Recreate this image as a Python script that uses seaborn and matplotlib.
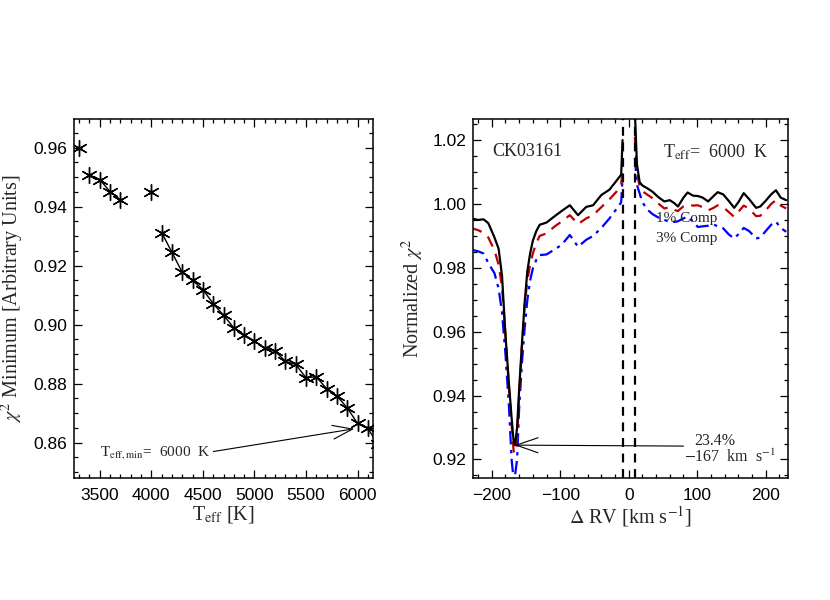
import numpy as np
import pandas as pd
import matplotlib
matplotlib.use("Agg")
import matplotlib.pyplot as plt
import seaborn as sns

# left panel: chi^2 minimum vs Teff
teff = [3300, 3400, 3500, 3600, 3700, 4000, 4100, 4200, 4300, 4400, 4500, 4600,
        4700, 4800, 4900, 5000, 5100, 5200, 5300, 5400, 5500, 5600, 5700, 5800,
        5900, 6000, 6100, 6200]
chi_min = [0.9600, 0.9508, 0.9491, 0.9451, 0.9423, 0.9451, 0.9312, 0.9245, 0.9177,
           0.9150, 0.9119, 0.9071, 0.9032, 0.8989, 0.8966, 0.8944, 0.8921, 0.8910,
           0.8876, 0.8865, 0.8820, 0.8823, 0.8783, 0.8758, 0.8718, 0.8665, 0.8648,
           0.8594]
# which run each point belongs to (points are only joined inside a run)
teff_run = [0, 1, 1, 1, 1, 2, 3, 3, 3, 3, 3, 3, 3, 3, 3, 3, 3, 3, 3, 3, 3, 3, 3, 3,
            3, 3, 3, 3]

# right panel: normalized chi^2 vs delta RV (curves break between the dashed lines)
rv = [-230, -220, -212, -205, -196, -190, -185, -180, -175, -171, -168, -166, -163,
      -160, -156, -152, -148, -144, -140, -135, -130, -120, -108, -98, -86, -74,
      -62, -52, -40, -28, -16, -11, -9, 9, 12, 16, 20, 28, 35, 43, 52,
      60, 67, 72, 80, 86, 94, 101, 108, 116, 124, 130, 138, 146, 154, 160, 168,
      176, 186, 192, 200, 208, 215, 222, 230]
chi_0 = [0.9955, 0.9950, 0.9952, 0.9940, 0.9895, 0.9860, 0.9775, 0.9590, 0.9440,
         0.9330, 0.9255, 0.9245, 0.9300, 0.9420, 0.9560, 0.9690, 0.9790, 0.9845,
         0.9885, 0.9915, 0.9935, 0.9942, 0.9962, 0.9978, 0.9996, 0.9965, 0.9991,
         0.9996, 1.0028, 1.0045, 1.0078, 1.0092, 1.0200,
         1.0290, 1.0125, 1.0068, 1.0058, 1.0048, 1.0038, 1.0022, 1.0008, 1.0012,
         1.0002, 0.9992, 1.0020, 1.0036, 1.0026, 1.0025, 1.0020, 1.0008, 1.0025,
         1.0037, 1.0030, 1.0010, 0.9988, 1.0005, 1.0034, 1.0015, 0.9988, 0.9992,
         1.0010, 1.0030, 1.0043, 1.0020, 1.0012]
chi_1 = [0.9925, 0.9918, 0.9910, 0.9895, 0.9855, 0.9810, 0.9740, 0.9590, 0.9430,
         0.9310, 0.9225, 0.9220, 0.9270, 0.9400, 0.9550, 0.9680, 0.9760, 0.9810,
         0.9845, 0.9878, 0.9900, 0.9908, 0.9930, 0.9945, 0.9965, 0.9937, 0.9955,
         0.9965, 0.9990, 1.0015, 1.0043, 1.0060, 1.0110,
         1.0210, 1.0100, 1.0055, 1.0040, 1.0028, 1.0018, 1.0002, 0.9986, 0.9990,
         0.9981, 0.9978, 0.9993, 0.9998, 0.9995, 0.9996, 0.9990, 0.9980, 0.9988,
         0.9996, 0.9990, 0.9975, 0.9960, 0.9975, 0.9995, 0.9985, 0.9962, 0.9963,
         0.9980, 1.0000, 1.0012, 0.9995, 0.9986]
chi_3 = [0.9857, 0.9852, 0.9845, 0.9815, 0.9783, 0.9735, 0.9660, 0.9530, 0.9370,
         0.9200, 0.9135, 0.9150, 0.9200, 0.9360, 0.9500, 0.9610, 0.9700, 0.9760,
         0.9798, 0.9825, 0.9840, 0.9842, 0.9858, 0.9872, 0.9903, 0.9866, 0.9888,
         0.9900, 0.9925, 0.9955, 0.9990, 1.0005, 1.0080,
         1.0145, 1.0060, 1.0033, 1.0005, 0.9981, 0.9968, 0.9958, 0.9950, 0.9945,
         0.9944, 0.9946, 0.9955, 0.9960, 0.9945, 0.9928, 0.9930, 0.9932, 0.9936,
         0.9930, 0.9924, 0.9905, 0.9892, 0.9905, 0.9925, 0.9915, 0.9892, 0.9895,
         0.9915, 0.9935, 0.9945, 0.9925, 0.9913]
rv_marks = [-9, 9]

sns.set_theme(style="ticks")
plt.rcParams["font.family"] = ["Liberation Serif", "DejaVu Serif"]
plt.rcParams["mathtext.fontset"] = "stix"
plt.rcParams["axes.linewidth"] = 1.1

TICK_FONT = "Liberation Sans"
LABEL_SIZE = 14.5


def style_axes(ax):
    ax.tick_params(which="both", direction="in", top=True, right=True,
                   labelsize=12.5, width=0.9, colors="black", pad=5)
    ax.tick_params(axis="x", which="both", pad=7)
    ax.tick_params(which="major", length=6)
    ax.tick_params(which="minor", length=3)
    for lab in ax.get_xticklabels() + ax.get_yticklabels():
        lab.set_fontfamily(TICK_FONT)
    for sp in ax.spines.values():
        sp.set_color("black")
        sp.set_visible(True)


fig = plt.figure(figsize=(8.3, 6), dpi=100)
ax1 = fig.add_axes([0.0892, 0.2033, 0.3602, 0.5983])
ax2 = fig.add_axes([0.5702, 0.2033, 0.3795, 0.5983])

# ---- left panel
df = pd.DataFrame({"teff": teff, "chi": chi_min, "run": teff_run})
sns.lineplot(data=df, x="teff", y="chi", units="run", estimator=None, ax=ax1,
             color="black", lw=1.0, marker="o", markersize=3, markeredgewidth=0)
sns.scatterplot(data=df, x="teff", y="chi", ax=ax1, marker=(6, 2, 0), s=130,
                color="black", edgecolor="black", linewidth=1.0)
ax1.set_xlim(3250, 6150)
ax1.set_ylim(0.848, 0.9697)
ax1.set_xticks([3500, 4000, 4500, 5000, 5500, 6000])
ax1.set_xticks(np.arange(3300, 6150, 100), minor=True)
ax1.set_yticks([0.86, 0.88, 0.90, 0.92, 0.94, 0.96])
ax1.set_yticks(np.arange(0.85, 0.97, 0.005), minor=True)
ax1.set_yticklabels(["0.86", "0.88", "0.90", "0.92", "0.94", "0.96"])
ax1.set_xlabel(r"T$_{\rm eff}$ [K]", fontsize=LABEL_SIZE, labelpad=1)
ax1.set_ylabel(r"$\chi^2$ Minimum [Arbitrary Units]", fontsize=LABEL_SIZE, labelpad=5)
ax1.annotate(r"T$_{\rm eff,min}$=  6000  K", xy=(5968, 0.8647), xytext=(3500, 0.8568),
             fontsize=11, va="center", ha="left",
             arrowprops=dict(arrowstyle="->,head_length=1.3,head_width=0.45",
                             color="black", lw=0.8, shrinkA=0, shrinkB=0,
                             relpos=(1.0, 0.5)))
style_axes(ax1)

# ---- right panel
dfr = pd.DataFrame({"rv": rv, "c0": chi_0, "c1": chi_1, "c3": chi_3})
dfr["side"] = (dfr["rv"] > 0).astype(int)
sns.lineplot(data=dfr, x="rv", y="c3", units="side", estimator=None, ax=ax2,
             color="#0000ff", lw=1.6)
for ln in ax2.lines:
    ln.set_dashes([6, 2.5, 1.5, 2.5])
n = len(ax2.lines)
sns.lineplot(data=dfr, x="rv", y="c1", units="side", estimator=None, ax=ax2,
             color="#c00000", lw=1.6)
for ln in ax2.lines[n:]:
    ln.set_dashes([5, 3.5])
sns.lineplot(data=dfr, x="rv", y="c0", units="side", estimator=None, ax=ax2,
             color="black", lw=1.6)
for v in rv_marks:
    ax2.axvline(v, color="black", lw=1.6, dashes=(4, 3))
ax2.set_xlim(-227, 233)
ax2.set_ylim(0.9142, 1.0266)
ax2.set_xticks([-200, -100, 0, 100, 200])
ax2.set_xticks(np.arange(-220, 231, 20), minor=True)
ax2.set_yticks([0.92, 0.94, 0.96, 0.98, 1.00, 1.02])
ax2.set_yticks(np.arange(0.915, 1.026, 0.005), minor=True)
ax2.set_yticklabels(["0.92", "0.94", "0.96", "0.98", "1.00", "1.02"])
ax2.set_xlabel(r"$\Delta$ RV [km s$^{-1}$]", fontsize=LABEL_SIZE, labelpad=1)
ax2.set_ylabel(r"Normalized $\chi^2$", fontsize=LABEL_SIZE, labelpad=5)
ax2.text(-200, 1.0163, "CK03161", fontsize=13, va="center", ha="left")
ax2.text(50, 1.0163, r"T$_{\rm eff}$=  6000  K", fontsize=13, va="center", ha="left")
ax2.text(40, 0.9955, "1% Comp", fontsize=11, va="center", ha="left")
ax2.text(40, 0.9892, "3% Comp", fontsize=11, va="center", ha="left")
ax2.annotate("", xy=(-166.6, 0.9245), xytext=(80, 0.9242),
             arrowprops=dict(arrowstyle="->,head_length=1.3,head_width=0.45",
                             color="black", lw=0.8, shrinkA=0, shrinkB=0))
ax2.text(125, 0.9258, "23.4%", fontsize=11.5, va="center", ha="center")
ax2.text(148, 0.9208, r"$-$167  km  s$^{-1}$", fontsize=11.5, va="center", ha="center")
style_axes(ax2)

fig.savefig("out.png", dpi=100)
